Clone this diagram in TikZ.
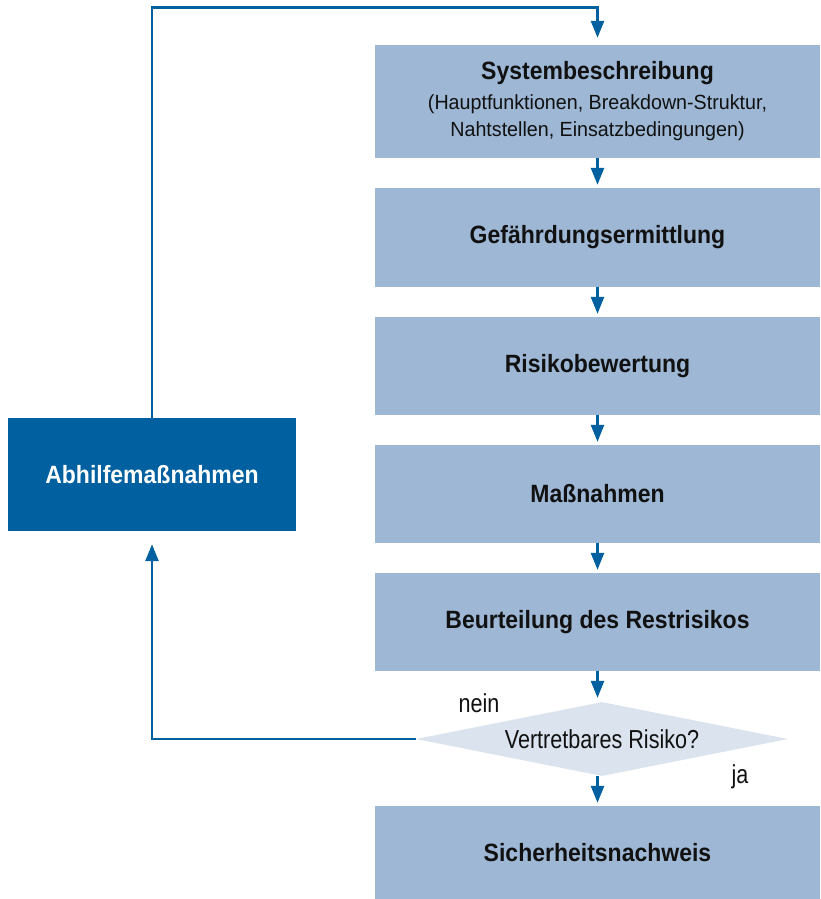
\documentclass[tikz,border=0pt]{standalone}
\usepackage{fontspec}
\setmainfont{Liberation Sans}
\newfontfamily\boldcond{Liberation Sans Bold}[FakeStretch=0.92]
\newfontfamily\regcond{Liberation Sans}[FakeStretch=0.96]
\newfontfamily\labelcond{Liberation Sans}[FakeStretch=0.83]
\usetikzlibrary{arrows.meta,shapes.geometric,calc}
\definecolor{boxblue}{HTML}{9DB7D5}
\definecolor{darkblue}{HTML}{0060A0}
\definecolor{diafill}{HTML}{DBE3EE}
\definecolor{textblack}{HTML}{111111}
\begin{document}
\begin{tikzpicture}[x=1pt,y=-1pt,
  stepbox/.style={fill=boxblue, minimum width=445pt, inner sep=0pt, align=center,
    text=textblack, font=\boldcond\fontsize{25}{27}\selectfont},
  actionbox/.style={fill=darkblue, minimum width=288pt, minimum height=113pt, inner sep=0pt,
    text=white, font=\boldcond\fontsize{25}{27}\selectfont},
  decision/.style={diamond, aspect=5, fill=diafill, minimum width=372pt, minimum height=74pt,
    inner sep=0pt, text=textblack, font=\labelcond\fontsize{26}{30}\selectfont},
  answer/.style={text=textblack, font=\labelcond\fontsize{26}{30}\selectfont,
    inner sep=0pt, anchor=base},
  conn/.style={draw=darkblue, line width=2.6pt,
    -{Triangle[width=13pt,length=17pt]}, shorten >=3pt}
]
\useasboundingbox (0,0) rectangle (820,899);

% main chain of steps
\node[stepbox, minimum height=113pt] (sys) at (597.5,101.5)
  {Systembeschreibung\\[3pt]
   {\regcond\fontsize{20.5}{27}\selectfont (Hauptfunktionen, Breakdown-Struktur,}\\
   {\regcond\fontsize{20.5}{27}\selectfont Nahtstellen, Einsatzbedingungen)}};
\node[stepbox, minimum height=99pt] (gef) at (597.5,237.5) {Gefährdungsermittlung};
\node[stepbox, minimum height=98pt] (risk) at (597.5,366) {Risikobewertung};
\node[stepbox, minimum height=98pt] (mass) at (597.5,494) {Maßnahmen};
\node[stepbox, minimum height=98pt] (rest) at (597.5,622) {Beurteilung des Restrisikos};
\node[decision] (dec) at (602,739) {Vertretbares Risiko?};
\node[stepbox, minimum height=93pt] (safe) at (597.5,852.5) {Sicherheitsnachweis};

% corrective action
\node[actionbox] (abh) at (152,474.5) {Abhilfemaßnahmen};

% branch labels
\node[answer] (nein) at (479,712) {nein};
\node[answer] (ja) at (740,783) {ja};

% connectors
\draw[conn] (sys) -- (gef);
\draw[conn] (gef) -- (risk);
\draw[conn] (risk) -- (mass);
\draw[conn] (mass) -- (rest);
\draw[conn, shorten >=4pt] (rest) -- (rest |- dec.north);
\draw[conn] (dec.south -| safe) -- (safe);
\draw[conn, shorten >=13pt] (dec.west) -| (abh.south);
\draw[conn, shorten >=7pt] (abh.north) -- ++(0,-410) -| (sys.north);
\end{tikzpicture}
\end{document}
